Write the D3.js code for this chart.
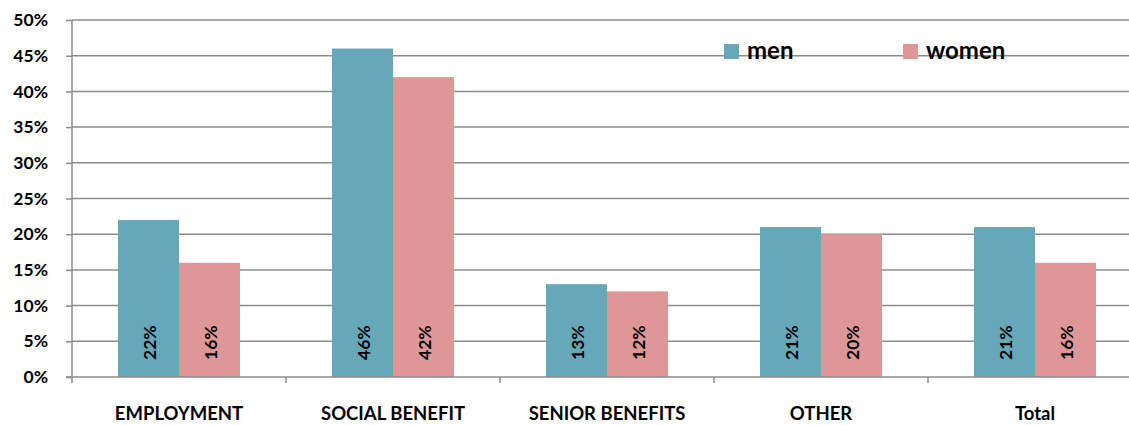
<!DOCTYPE html>
<html><head><meta charset="utf-8">
<script src="https://cdn.jsdelivr.net/npm/d3@7"></script>
<style>body{margin:0;background:#fff}svg{display:block}</style>
</head><body>
<svg id="c" width="1129" height="425"></svg>
<script>
const categories = ["EMPLOYMENT","SOCIAL BENEFIT","SENIOR BENEFITS","OTHER","Total"];
const seriesNames = ["men","women"];
const men = [22,46,13,21,21];
const women = [16,42,12,20,16];
const yTicks = [0,5,10,15,20,25,30,35,40,45,50];
const colors = {men:"#66a8ba", women:"#de9797"};

(function(){
const svg = d3.select("#c");
const font = "Lato, 'Open Sans', sans-serif";
const mL = 72, mR = 1142, mT = 20, mB = 377;
const x = d3.scaleBand().domain(categories).range([mL,mR]).paddingInner(0).paddingOuter(0);
const barW = 61;
const y = d3.scaleLinear().domain([0,50]).range([mB,mT]);

// gridlines
svg.append("g").selectAll("line").data(yTicks.slice(1)).join("line")
  .attr("x1",mL).attr("x2",mR).attr("y1",d=>y(d)).attr("y2",d=>y(d))
  .attr("stroke","#8c8c8c").attr("stroke-width",1.5);

// bars
const data = categories.map((c,i)=>({c, vals:[{s:"men",v:men[i]},{s:"women",v:women[i]}]}));
const g = svg.append("g").selectAll("g").data(data).join("g")
  .attr("transform",d=>`translate(${x(d.c)+x.bandwidth()/2 - barW},0)`);
g.selectAll("rect").data(d=>d.vals).join("rect")
  .attr("x",(d,i)=>i*barW).attr("width",barW)
  .attr("y",d=>y(d.v)).attr("height",d=>y(0)-y(d.v))
  .attr("fill",d=>colors[d.s]);
g.selectAll("text").data(d=>d.vals).join("text")
  .attr("transform",(d,i)=>`translate(${i*barW+barW/2+7},${mB-17}) rotate(-90)`)
  .attr("font-family",font).attr("font-weight","bold").attr("font-size",17.5)
  .attr("fill","#000").text(d=>d.v+"%");

// y axis
const ya = svg.append("g").attr("transform",`translate(${mL},0)`)
  .call(d3.axisLeft(y).tickValues(yTicks).tickSize(6).tickPadding(18).tickFormat(d=>d+"%"));
ya.select(".domain").remove();
ya.selectAll(".tick line").attr("stroke","#8c8c8c").attr("stroke-width",1.5);
ya.selectAll(".tick text").attr("font-family",font).attr("font-weight","bold").attr("font-size",17.5).attr("fill","#000");
svg.append("line").attr("x1",mL).attr("x2",mL).attr("y1",mT).attr("y2",mB+6)
  .attr("stroke","#8c8c8c").attr("stroke-width",1.5);

// x axis
svg.append("line").attr("x1",mL-6).attr("x2",mR).attr("y1",mB).attr("y2",mB)
  .attr("stroke","#8c8c8c").attr("stroke-width",1.5);
const xa = svg.append("g").attr("transform",`translate(0,${mB})`)
  .call(d3.axisBottom(x).tickSize(0).tickPadding(30));
xa.select(".domain").remove();
xa.selectAll(".tick text").attr("font-family",font).attr("font-weight","bold").attr("font-size",18.5).attr("fill","#000");
svg.append("g").selectAll("line").data(categories.slice(1)).join("line")
  .attr("x1",d=>x(d)).attr("x2",d=>x(d)).attr("y1",mB).attr("y2",mB+6)
  .attr("stroke","#8c8c8c").attr("stroke-width",1.5);

// legend
const lg = svg.append("g");
const legX = [724, 903];
seriesNames.forEach((s,i)=>{
  lg.append("rect").attr("x",legX[i]).attr("y",44).attr("width",15).attr("height",15).attr("fill",colors[s]);
  lg.append("text").attr("x",legX[i]+23).attr("y",59).attr("font-family",font).attr("font-weight","bold")
    .attr("font-size",24).attr("fill","#000").text(s);
});
})();
</script>
</body></html>
